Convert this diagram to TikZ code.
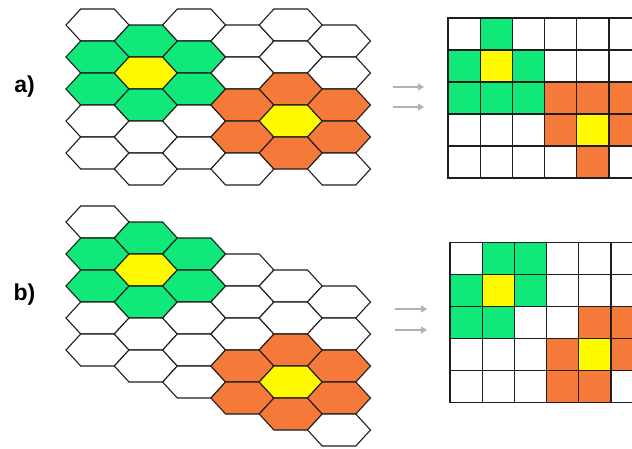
\documentclass[tikz,border=0pt]{standalone}
\usepackage{fontspec}
\setsansfont{Liberation Sans}
\usepackage{xcolor}
\usepackage{tikz}
\usetikzlibrary{arrows.meta}
\definecolor{cellw}{RGB}{255,255,255}
\definecolor{cellg}{RGB}{16,232,122}
\definecolor{celly}{RGB}{255,250,0}
\definecolor{cello}{RGB}{245,122,58}
\definecolor{edge}{RGB}{30,30,30}
\definecolor{pale}{RGB}{178,178,178}
% cell colours, column by column (5 rows each)
\def\layoutA{w,g,g,w,w,g,y,g,w,w,w,g,g,w,w,w,w,o,o,w,w,w,o,y,o,w,w,o,o,w}
\def\layoutB{w,g,g,w,w,g,y,g,w,w,g,g,w,w,w,w,w,w,o,o,w,w,o,y,o,w,w,o,o,w}

\begin{document}
\begin{tikzpicture}[x=1pt, y=-1pt,
  hexcell/.style={draw=edge, line width=1.1pt, line join=miter},
  sqcell/.style={draw=edge, line width=1.1pt},
  link/.style={-{Triangle[length=6pt, width=7pt]}, pale, line width=1.3pt},
  tag/.style={inner sep=0pt, font=\sffamily\bfseries\fontsize{23}{26}\selectfont}]
  \useasboundingbox (0,0) rectangle (632,448);
  \clip (0,0) rectangle (632,448);

  % a) offset hexagons and their square grid
  \foreach \k [count=\i from 0] in \layoutA {
    \pgfmathtruncatemacro\c{int(\i/5)}
    \pgfmathtruncatemacro\r{mod(\i,5)}
    \draw[hexcell, fill=cell\k] ({97.5+48.3*\c-31.5},{25+32*\r+16*mod(\c,2)})
      -- ++(14.7,-16) -- ++(33.6,0) -- ++(14.7,16) -- ++(-14.7,16) -- ++(-33.6,0) -- cycle;
    \draw[sqcell, fill=cell\k] ({448+32.2*\c},{18+32*\r}) rectangle ++(32.2,32);
  }

  % b) skewed hexagons and their square grid
  \foreach \k [count=\i from 0] in \layoutB {
    \pgfmathtruncatemacro\c{int(\i/5)}
    \pgfmathtruncatemacro\r{mod(\i,5)}
    \draw[hexcell, fill=cell\k] ({97.5+48.3*\c-31.5},{222+32*\r+16*\c})
      -- ++(14.7,-16) -- ++(33.6,0) -- ++(14.7,16) -- ++(-14.7,16) -- ++(-33.6,0) -- cycle;
    \draw[sqcell, fill=cell\k] ({450+32.2*\c},{242.7+32*\r}) rectangle ++(32.2,32);
  }

  \node[tag] (tagA) at (24.5,86.7) {a)};
  \node[tag] (tagB) at (24.5,295) {b)};

  \coordinate (a1s) at (393,87);  \coordinate (a1e) at (424,87);
  \coordinate (a2s) at (393,107); \coordinate (a2e) at (424,107);
  \coordinate (b1s) at (395,309); \coordinate (b1e) at (427,309);
  \coordinate (b2s) at (395,330); \coordinate (b2e) at (427,330);
  \draw[link] (a1s) -- (a1e);
  \draw[link] (a2s) -- (a2e);
  \draw[link] (b1s) -- (b1e);
  \draw[link] (b2s) -- (b2e);
\end{tikzpicture}
\end{document}
